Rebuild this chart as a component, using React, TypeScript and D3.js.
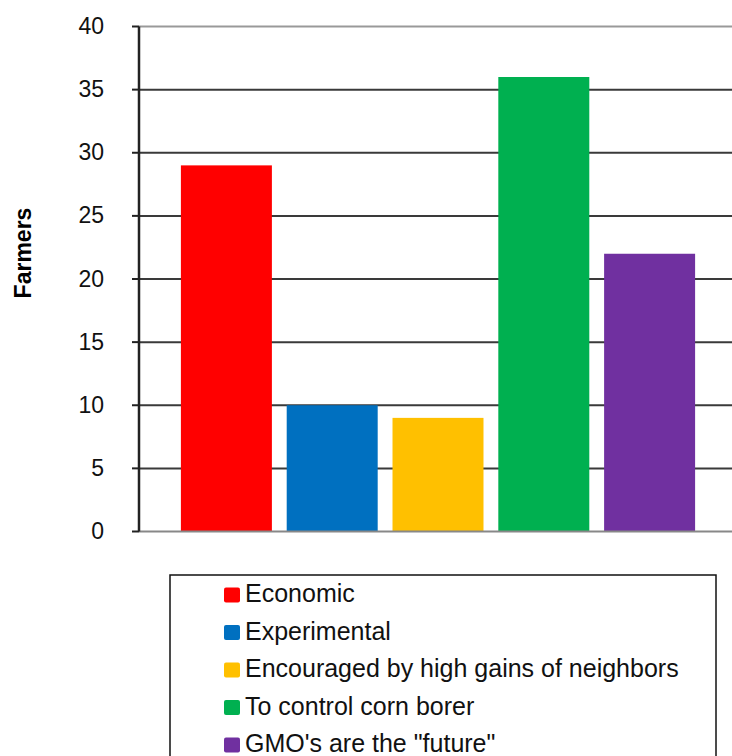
import React from "react";
import * as d3 from "d3";

const series = [
  "Economic",
  "Experimental",
  "Encouraged by high gains of neighbors",
  "To control corn borer",
  "GMO's are the \"future\"",
];
const values = [29, 10, 9, 36, 22];
const colors = ["#FF0000", "#0070C0", "#FFC000", "#00B050", "#7030A0"];
const yTicks = [0, 5, 10, 15, 20, 25, 30, 35, 40];
const yLabel = "Farmers";

const W = 732;
const H = 756;
const plotLeft = 139;
const plotRight = 737;
const plotTop = 26.5;
const plotBottom = 531.5;
const FONT = "'Liberation Sans', Arial, sans-serif";

export default function App() {
  const y = d3.scaleLinear().domain([0, 40]).range([plotBottom, plotTop]);
  const x = d3
    .scaleBand<string>()
    .domain(series)
    .range([plotLeft, plotRight])
    .paddingInner(0.14)
    .paddingOuter(0.396);

  const legendX = 170;
  const legendY = 575;
  const rowH = 37.5;
  const firstBaseline = 602;

  return (
    <div style={{ position: "absolute", left: 0, top: 0 }}>
      <svg width={W} height={H} style={{ display: "block" }}>
        <rect x={0} y={0} width={W} height={H} fill="#fff" />
        {/* gridlines */}
        {yTicks
          .filter((t) => t !== 0)
          .map((t) => (
            <line
              key={"g" + t}
              x1={plotLeft}
              x2={W}
              y1={y(t)}
              y2={y(t)}
              stroke={t === 40 ? "#999" : "#3a3a3a"}
              strokeWidth={2}
            />
          ))}
        {/* bars */}
        {series.map((s, i) => (
          <rect
            key={s}
            x={x(s)}
            y={y(values[i])}
            width={x.bandwidth()}
            height={y(0) - y(values[i])}
            fill={colors[i]}
          />
        ))}
        {/* baseline */}
        <line x1={plotLeft} x2={W} y1={y(0)} y2={y(0)} stroke="#888" strokeWidth={2} />
        {/* y axis */}
        <line x1={plotLeft} x2={plotLeft} y1={plotTop} y2={plotBottom} stroke="#222" strokeWidth={2.5} />
        {yTicks.map((t) => (
          <g key={"t" + t}>
            <line x1={132} x2={plotLeft} y1={y(t)} y2={y(t)} stroke="#222" strokeWidth={2} />
            <text
              x={104}
              y={y(t)}
              dy="0.33em"
              textAnchor="end"
              fontFamily={FONT}
              fontSize={23}
              fill="#111"
            >
              {t}
            </text>
          </g>
        ))}
        <text
          transform={`translate(31,253) rotate(-90)`}
          textAnchor="middle"
          fontFamily={FONT}
          fontSize={23}
          fontWeight="bold"
          fill="#000"
        >
          {yLabel}
        </text>
        {/* legend */}
        <rect x={legendX} y={legendY} width={716 - legendX} height={H - legendY + 20} fill="#fff" stroke="#111" strokeWidth={1.5} />
        {series.map((s, i) => (
          <g key={"l" + s}>
            <rect x={224} y={firstBaseline + i * rowH - 14.5} width={16} height={15} rx={2} fill={colors[i]} />
            <text x={245} y={firstBaseline + i * rowH} fontFamily={FONT} fontSize={25} fill="#111">
              {s}
            </text>
          </g>
        ))}
      </svg>
    </div>
  );
}
